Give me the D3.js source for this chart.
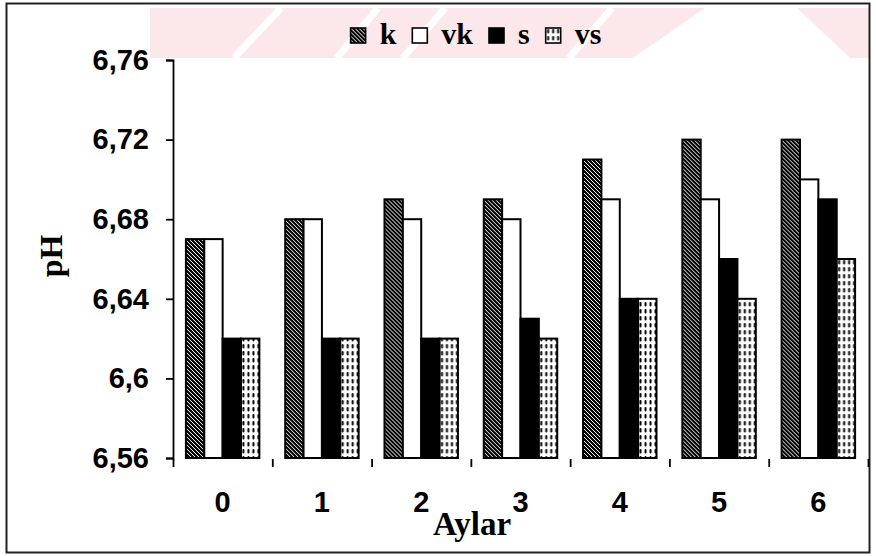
<!DOCTYPE html>
<html>
<head>
<meta charset="utf-8">
<script src="https://cdn.jsdelivr.net/npm/d3@7"></script>
<style>
  body { margin: 0; background: #fff; }
  svg { display: block; }
</style>
</head>
<body>
<div id="chart"></div>
<script>
// pH by month (Aylar) for the four groups
const months = ["0", "1", "2", "3", "4", "5", "6"];
const seriesNames = ["k", "vk", "s", "vs"];
const kValues  = [6.67, 6.68, 6.69, 6.69, 6.71, 6.72, 6.72];
const vkValues = [6.67, 6.68, 6.68, 6.68, 6.69, 6.69, 6.70];
const sValues  = [6.62, 6.62, 6.62, 6.63, 6.64, 6.66, 6.69];
const vsValues = [6.62, 6.62, 6.62, 6.62, 6.64, 6.64, 6.66];
const yTicks = [6.56, 6.6, 6.64, 6.68, 6.72, 6.76];

const seriesValues = [kValues, vkValues, sValues, vsValues];
const data = months.map((m, i) => ({
  month: m,
  values: seriesNames.map((s, j) => ({ key: s, value: seriesValues[j][i] }))
}));

let width = 876,
height = 556;

const sans = "'Liberation Sans', Arial, sans-serif";
const serif = "'Liberation Serif', 'Times New Roman', serif";

let svg = d3.select("#chart")
.append("svg")
.attr("width", width)
.attr("height", height);

let defs = svg.append("defs");

// diagonal hatch for k
let hatch = defs.append("pattern")
  .attr("id", "hatch")
  .attr("patternUnits", "userSpaceOnUse")
  .attr("width", 4).attr("height", 4);
hatch.append("rect").attr("width", 4).attr("height", 4).attr("fill", "#000");
hatch.append("path")
  .attr("d", "M0,0L4,4M-1,3L1,5M3,-1L5,1")
  .attr("stroke", "#fff").attr("stroke-width", 1);

// dotted pattern for vs
let dots = defs.append("pattern")
  .attr("id", "dots")
  .attr("patternUnits", "userSpaceOnUse")
  .attr("width", 5).attr("height", 7);
dots.append("rect").attr("width", 5).attr("height", 7).attr("fill", "#fff");
dots.append("rect")
  .attr("x", 1.5).attr("y", 1).attr("width", 2).attr("height", 4.5)
  .attr("rx", 1).attr("fill", "#000");

const fills = { k: "url(#hatch)", vk: "#fff", s: "#000", vs: "url(#dots)" };

// faint pink watermark band at the top
defs.append("clipPath").attr("id", "band")
  .append("rect").attr("x", 8).attr("y", 8).attr("width", 862).attr("height", 50);
let wm = svg.append("g").attr("clip-path", "url(#band)").attr("fill", "#fce7ea");
wm.append("polygon").attr("points", "150,58 150,8 705,8 633,58");
wm.append("polygon").attr("points", "797,8 880,8 880,64 850,58");
wm.append("g").attr("stroke", "#fff").attr("stroke-width", 7)
  .selectAll("line")
  .data([[234, 281], [337, 378], [403, 445], [569, 612]])
  .join("line")
  .attr("x1", d => d[0]).attr("y1", 58)
  .attr("x2", d => d[1]).attr("y2", 8);

// outer frame
svg.append("rect")
  .attr("x", 6.5).attr("y", 3.5)
  .attr("width", 863).attr("height", 549)
  .attr("fill", "none")
  .attr("stroke", "#222")
  .attr("stroke-width", 2);

const plotLeft = 173, plotRight = 868, plotTop = 60, plotBottom = 458;

let x0 = d3.scaleBand()
  .domain(months)
  .range([plotLeft, plotRight])
  .paddingInner(0.26)
  .paddingOuter(0.13);

let x1 = d3.scaleBand()
  .domain(seriesNames)
  .range([0, x0.bandwidth()]);

let y = d3.scaleLinear()
  .domain([6.56, 6.76])
  .range([plotBottom, plotTop]);

// bars
let groups = svg.append("g")
  .selectAll("g")
  .data(data)
  .join("g")
  .attr("transform", d => `translate(${x0(d.month)},0)`);

groups.selectAll("rect")
  .data(d => d.values)
  .join("rect")
  .attr("x", d => x1(d.key))
  .attr("y", d => y(d.value))
  .attr("width", x1.bandwidth())
  .attr("height", d => y(6.56) - y(d.value))
  .attr("fill", d => fills[d.key])
  .attr("stroke", "#000")
  .attr("stroke-width", 2);

// y axis
let yAxis = svg.append("g")
  .attr("transform", `translate(${plotLeft},0)`)
  .call(d3.axisLeft(y)
    .tickValues(yTicks)
    .tickSize(7)
    .tickPadding(17)
    .tickFormat(d => String(d).replace(".", ",")));
yAxis.selectAll("path, line").attr("stroke", "#000").attr("stroke-width", 1.8);
yAxis.selectAll("text")
  .attr("font-family", sans)
  .attr("font-weight", "bold")
  .attr("font-size", 29)
  .attr("fill", "#000");

// x axis: ticks at the month boundaries, no line
let xb = d3.scaleLinear().domain([0, months.length]).range([plotLeft, plotRight]);
let xAxis = svg.append("g")
  .attr("transform", `translate(0,${plotBottom + 1})`)
  .call(d3.axisBottom(xb).ticks(months.length).tickSize(8).tickFormat(""));
xAxis.select(".domain").remove();
xAxis.selectAll("line").attr("stroke", "#000").attr("stroke-width", 1.8);

svg.append("g")
  .selectAll("text")
  .data(months)
  .join("text")
  .attr("x", d => x0(d) + x0.bandwidth() / 2)
  .attr("y", 512)
  .attr("text-anchor", "middle")
  .attr("font-family", sans)
  .attr("font-weight", "bold")
  .attr("font-size", 29)
  .text(d => d);

// axis titles
svg.append("text")
  .attr("x", 472).attr("y", 535)
  .attr("text-anchor", "middle")
  .attr("font-family", serif)
  .attr("font-weight", "bold")
  .attr("font-size", 33)
  .text("Aylar");

svg.append("text")
  .attr("transform", "translate(62,256) rotate(-90)")
  .attr("text-anchor", "middle")
  .attr("font-family", serif)
  .attr("font-weight", "bold")
  .attr("font-size", 32)
  .text("pH");

// legend, laid out left to right then centered
let legend = svg.append("g");
let lx = 0;
seriesNames.forEach((s, i) => {
  legend.append("rect")
    .attr("x", lx).attr("y", 28)
    .attr("width", 15).attr("height", 15)
    .attr("fill", fills[s])
    .attr("stroke", "#000")
    .attr("stroke-width", 1.6);
  lx += 15 + 14;
  let t = legend.append("text")
    .attr("x", lx).attr("y", 44)
    .attr("font-family", serif)
    .attr("font-weight", "bold")
    .attr("font-size", 30)
    .text(s);
  lx += t.node().getComputedTextLength() + 16;
});
lx -= 16;
legend.attr("transform", `translate(${476 - lx / 2},0)`);
</script>
</body>
</html>
